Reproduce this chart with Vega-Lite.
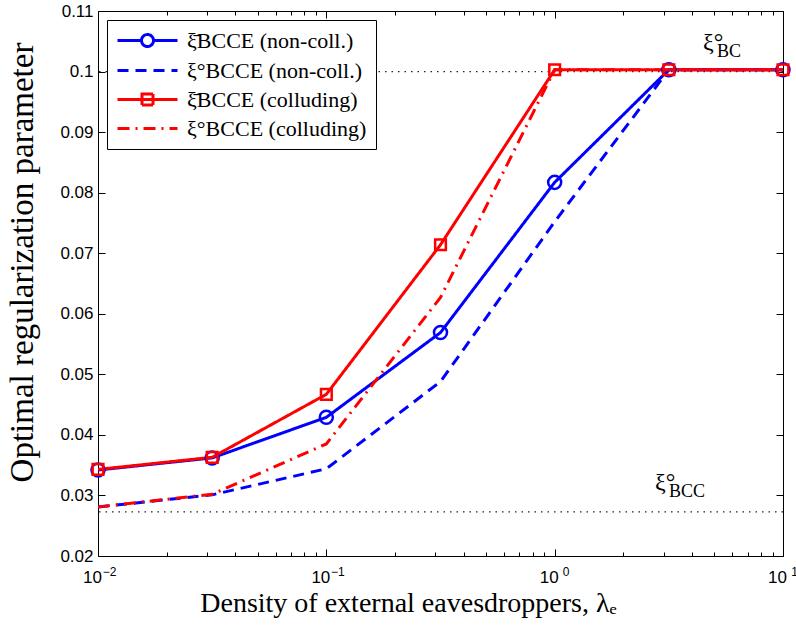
{
  "$schema": "https://vega.github.io/schema/vega-lite/v6.json",
  "width": 685,
  "height": 545,
  "autosize": {"type": "none"},
  "padding": {"left": 98, "top": 11, "right": 13, "bottom": 69},
  "background": "white",
  "config": {
    "view": {"stroke": "black", "strokeWidth": 1},
    "axis": {"grid": false, "domain": false, "tickColor": "black", "labelColor": "black", "titleColor": "black"}
  },
  "datasets": {
    "curves": [
      {"series": "\u03be\u0304BCCE (non-coll.)", "x": 0.01, "y": 0.0342},
      {"series": "\u03be\u0304BCCE (non-coll.)", "x": 0.031623, "y": 0.0362},
      {"series": "\u03be\u0304BCCE (non-coll.)", "x": 0.1, "y": 0.0429},
      {"series": "\u03be\u0304BCCE (non-coll.)", "x": 0.31623, "y": 0.0569},
      {"series": "\u03be\u0304BCCE (non-coll.)", "x": 1, "y": 0.0817},
      {"series": "\u03be\u0304BCCE (non-coll.)", "x": 3.1623, "y": 0.1003},
      {"series": "\u03be\u0304BCCE (non-coll.)", "x": 10, "y": 0.1003},
      {"series": "\u03be\u00b0BCCE (non-coll.)", "x": 0.01, "y": 0.0281},
      {"series": "\u03be\u00b0BCCE (non-coll.)", "x": 0.031623, "y": 0.0301},
      {"series": "\u03be\u00b0BCCE (non-coll.)", "x": 0.1, "y": 0.0344},
      {"series": "\u03be\u00b0BCCE (non-coll.)", "x": 0.31623, "y": 0.0488},
      {"series": "\u03be\u00b0BCCE (non-coll.)", "x": 1, "y": 0.0752},
      {"series": "\u03be\u00b0BCCE (non-coll.)", "x": 3.1623, "y": 0.1003},
      {"series": "\u03be\u00b0BCCE (non-coll.)", "x": 10, "y": 0.1003},
      {"series": "\u03be\u0304BCCE (colluding)", "x": 0.01, "y": 0.0343},
      {"series": "\u03be\u0304BCCE (colluding)", "x": 0.031623, "y": 0.0363},
      {"series": "\u03be\u0304BCCE (colluding)", "x": 0.1, "y": 0.0467},
      {"series": "\u03be\u0304BCCE (colluding)", "x": 0.31623, "y": 0.0714},
      {"series": "\u03be\u0304BCCE (colluding)", "x": 1, "y": 0.1003},
      {"series": "\u03be\u0304BCCE (colluding)", "x": 3.1623, "y": 0.1003},
      {"series": "\u03be\u0304BCCE (colluding)", "x": 10, "y": 0.1003},
      {"series": "\u03be\u00b0BCCE (colluding)", "x": 0.01, "y": 0.0281},
      {"series": "\u03be\u00b0BCCE (colluding)", "x": 0.031623, "y": 0.0302},
      {"series": "\u03be\u00b0BCCE (colluding)", "x": 0.1, "y": 0.0385},
      {"series": "\u03be\u00b0BCCE (colluding)", "x": 0.31623, "y": 0.0627},
      {"series": "\u03be\u00b0BCCE (colluding)", "x": 1, "y": 0.1003},
      {"series": "\u03be\u00b0BCCE (colluding)", "x": 3.1623, "y": 0.1003},
      {"series": "\u03be\u00b0BCCE (colluding)", "x": 10, "y": 0.1003}
    ],
    "refs": [{"y": 0.1}, {"y": 0.0273}],
    "notes": [
      {"key": "BC", "x": 4.46, "y": 0.1036, "main": "\u03be\u00b0", "sub": "BC"},
      {"key": "BCC", "x": 2.75, "y": 0.0309, "main": "\u03be\u00b0", "sub": "BCC"}
    ]
  },
  "resolve": {"axis": {"x": "independent", "y": "independent"}},
  "layer": [
    {
      "data": {"name": "refs"},
      "mark": {"type": "rule", "strokeDash": [1.5, 5], "strokeWidth": 1.2, "color": "#222"},
      "encoding": {
        "y": {"field": "y", "type": "quantitative", "scale": {"domain": [0.02, 0.11], "nice": false, "zero": false}, "axis": null}
      }
    },
    {
      "data": {"name": "curves"},
      "mark": {"type": "line", "strokeWidth": 3, "clip": true},
      "encoding": {
        "x": {
          "field": "x", "type": "quantitative",
          "scale": {"type": "log", "domain": [0.01, 10], "nice": false},
          "axis": {
            "orient": "bottom",
            "values": [0.01, 0.1, 1, 10],
            "labelExpr": "'10'",
            "labelFont": "Liberation Sans", "labelFontSize": 17, "labelPadding": 13, "labelOffset": -6,
            "labelFlush": false, "labelOverlap": false, "ticks": false,
            "title": "Density of external eavesdroppers, \u03bb\u2091",
            "titleFont": "Liberation Serif", "titleFontSize": 28, "titleFontWeight": "normal", "titlePadding": 4, "titleX": 310
          }
        },
        "y": {
          "field": "y", "type": "quantitative",
          "scale": {"domain": [0.02, 0.11], "nice": false, "zero": false},
          "axis": {
            "orient": "left",
            "values": [0.02, 0.03, 0.04, 0.05, 0.06, 0.07, 0.08, 0.09, 0.1, 0.11],
            "format": ".2~f",
            "labelFont": "Liberation Sans", "labelFontSize": 17, "labelPadding": 5,
            "labelFlush": false, "labelOverlap": false, "ticks": false,
            "title": "Optimal regularization parameter",
            "titleFont": "Liberation Serif", "titleFontSize": 33, "titleFontWeight": "normal", "titlePadding": 20, "titleY": 251
          }
        },
        "color": {
          "field": "series", "type": "nominal",
          "scale": {
            "domain": ["\u03be\u0304BCCE (non-coll.)", "\u03be\u00b0BCCE (non-coll.)", "\u03be\u0304BCCE (colluding)", "\u03be\u00b0BCCE (colluding)"],
            "range": ["#0000ff", "#0000ff", "#ff0000", "#ff0000"]
          },
          "legend": {
            "title": null, "orient": "top-left", "offset": 9,
            "strokeColor": "black", "fillColor": "white", "padding": 9,
            "symbolSize": 400, "symbolStrokeWidth": 3, "symbolType": "M-1,0L5,0",
            "labelFont": "Liberation Serif", "labelFontSize": 22, "labelOffset": 48, "rowPadding": 6, "labelLimit": 400,
            "encoding": {"symbols": {"shape": {"value": {"expr": "datum.index === 0 ? 'M-1,0L1.4,0M2.6,0L5,0M2.6,0A0.6,0.6 0 1 1 1.4,0A0.6,0.6 0 1 1 2.6,0' : datum.index === 2 ? 'M-1,0L5,0M1.45,-0.55L2.55,-0.55L2.55,0.55L1.45,0.55Z' : 'M-1,0L5,0'"}}}}
          }
        },
        "strokeDash": {
          "field": "series", "type": "nominal",
          "scale": {
            "domain": ["\u03be\u0304BCCE (non-coll.)", "\u03be\u00b0BCCE (non-coll.)", "\u03be\u0304BCCE (colluding)", "\u03be\u00b0BCCE (colluding)"],
            "range": [[1, 0], [11, 7], [1, 0], [12, 6, 2, 6]]
          },
          "legend": {
            "title": null, "orient": "top-left", "offset": 9,
            "strokeColor": "black", "fillColor": "white", "padding": 9,
            "symbolSize": 400, "symbolStrokeWidth": 3, "symbolType": "M-1,0L5,0",
            "labelFont": "Liberation Serif", "labelFontSize": 22, "labelOffset": 48, "rowPadding": 6, "labelLimit": 400,
            "encoding": {"symbols": {"shape": {"value": {"expr": "datum.index === 0 ? 'M-1,0L1.4,0M2.6,0L5,0M2.6,0A0.6,0.6 0 1 1 1.4,0A0.6,0.6 0 1 1 2.6,0' : datum.index === 2 ? 'M-1,0L5,0M1.45,-0.55L2.55,-0.55L2.55,0.55L1.45,0.55Z' : 'M-1,0L5,0'"}}}}
          }
        }
      }
    },
    {
      "data": {"name": "curves"},
      "transform": [{"filter": {"field": "series", "equal": "\u03be\u0304BCCE (non-coll.)"}}],
      "mark": {"type": "point", "shape": "circle", "size": 170, "filled": false, "strokeWidth": 2.5, "opacity": 1, "clip": false},
      "encoding": {
        "x": {
          "field": "x", "type": "quantitative",
          "scale": {"type": "log", "domain": [0.01, 10], "nice": false},
          "axis": {
            "orient": "top", "offset": -7,
            "values": [0.01, 0.1, 1, 10],
            "labels": false, "title": null, "ticks": true, "tickSize": 7, "tickWidth": 1
          }
        },
        "y": {
          "field": "y", "type": "quantitative",
          "scale": {"domain": [0.02, 0.11], "nice": false, "zero": false},
          "axis": {
            "orient": "right", "offset": -7,
            "values": [0.02, 0.03, 0.04, 0.05, 0.06, 0.07, 0.08, 0.09, 0.1, 0.11],
            "labels": false, "title": null, "ticks": true, "tickSize": 7, "tickWidth": 1
          }
        },
        "color": {"field": "series", "type": "nominal"}
      }
    },
    {
      "data": {"name": "curves"},
      "transform": [{"filter": {"field": "series", "equal": "\u03be\u0304BCCE (colluding)"}}],
      "mark": {"type": "point", "shape": "square", "size": 115, "filled": false, "strokeWidth": 2.5, "opacity": 1, "clip": false},
      "encoding": {
        "x": {
          "field": "x", "type": "quantitative",
          "scale": {"type": "log", "domain": [0.01, 10], "nice": false},
          "axis": {
            "orient": "top", "offset": -4,
            "values": [0.02, 0.03, 0.04, 0.05, 0.06, 0.07, 0.08, 0.09, 0.2, 0.3, 0.4, 0.5, 0.6, 0.7, 0.8, 0.9, 2, 3, 4, 5, 6, 7, 8, 9],
            "labels": false, "title": null, "ticks": true, "tickSize": 4, "tickWidth": 1
          }
        },
        "y": {
          "field": "y", "type": "quantitative",
          "scale": {"domain": [0.02, 0.11], "nice": false, "zero": false},
          "axis": null
        },
        "color": {"field": "series", "type": "nominal"}
      }
    },
    {
      "data": {"name": "notes"},
      "transform": [{"filter": {"field": "key", "equal": "BC"}}],
      "mark": {"type": "text", "font": "Liberation Serif", "fontSize": 24, "align": "left", "baseline": "alphabetic", "color": "black"},
      "encoding": {
        "x": {
          "field": "x", "type": "quantitative", "scale": {"type": "log", "domain": [0.01, 10], "nice": false},
          "axis": {
            "orient": "bottom", "offset": -7,
            "values": [0.01, 0.1, 1, 10],
            "labels": false, "title": null, "ticks": true, "tickSize": 7, "tickWidth": 1
          }
        },
        "y": {
          "field": "y", "type": "quantitative", "scale": {"domain": [0.02, 0.11], "nice": false, "zero": false},
          "axis": {
            "orient": "left", "offset": -7,
            "values": [0.02, 0.03, 0.04, 0.05, 0.06, 0.07, 0.08, 0.09, 0.1, 0.11],
            "labels": false, "title": null, "ticks": true, "tickSize": 7, "tickWidth": 1
          }
        },
        "text": {"field": "main"}
      }
    },
    {
      "data": {"name": "notes"},
      "transform": [{"filter": {"field": "key", "equal": "BCC"}}],
      "mark": {"type": "text", "font": "Liberation Serif", "fontSize": 24, "align": "left", "baseline": "alphabetic", "color": "black"},
      "encoding": {
        "x": {
          "field": "x", "type": "quantitative", "scale": {"type": "log", "domain": [0.01, 10], "nice": false},
          "axis": {
            "orient": "bottom", "offset": -4,
            "values": [0.02, 0.03, 0.04, 0.05, 0.06, 0.07, 0.08, 0.09, 0.2, 0.3, 0.4, 0.5, 0.6, 0.7, 0.8, 0.9, 2, 3, 4, 5, 6, 7, 8, 9],
            "labels": false, "title": null, "ticks": true, "tickSize": 4, "tickWidth": 1
          }
        },
        "y": {"field": "y", "type": "quantitative", "scale": {"domain": [0.02, 0.11], "nice": false, "zero": false}, "axis": null},
        "text": {"field": "main"}
      }
    },
    {
      "data": {"name": "notes"},
      "mark": {"type": "text", "font": "Liberation Serif", "fontSize": 18, "align": "left", "baseline": "alphabetic", "color": "black", "dx": 14, "dy": 7},
      "encoding": {
        "x": {
          "field": "x", "type": "quantitative", "scale": {"type": "log", "domain": [0.01, 10], "nice": false},
          "axis": {
            "orient": "bottom", "values": [0.01, 0.1, 1, 10],
            "labelExpr": "datum.value < 0.05 ? '\u22122' : datum.value < 0.5 ? '\u22121' : datum.value < 5 ? '0' : '1'",
            "labelFont": "Liberation Sans", "labelFontSize": 12, "labelPadding": 10, "labelOffset": 11,
            "labelFlush": false, "labelOverlap": false, "ticks": false, "title": null
          }
        },
        "y": {"field": "y", "type": "quantitative", "scale": {"domain": [0.02, 0.11], "nice": false, "zero": false}, "axis": null},
        "text": {"field": "sub"}
      }
    }
  ]
}
